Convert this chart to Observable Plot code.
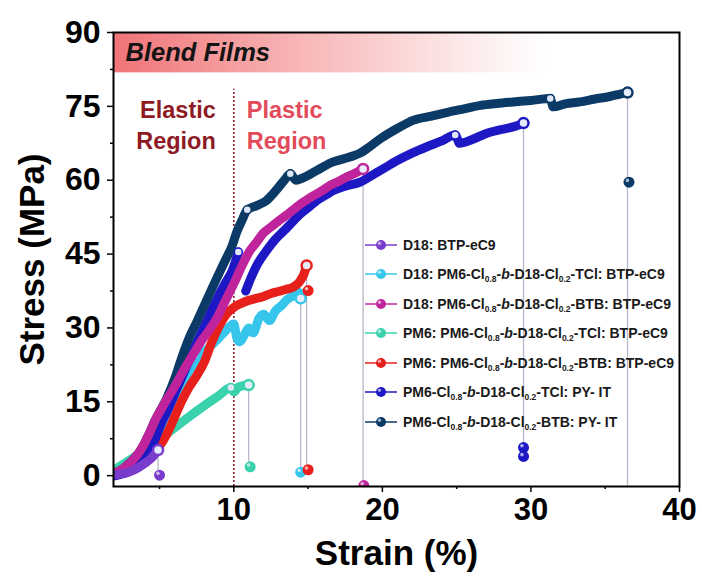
<!DOCTYPE html>
<html>
<head>
<meta charset="utf-8">
<script src="https://cdn.jsdelivr.net/npm/d3@7"></script>
<script src="https://cdn.jsdelivr.net/npm/@observablehq/plot@0.6"></script>
<style>
  html, body { margin: 0; padding: 0; background: #fff; }
  #chart { position: relative; width: 702px; height: 577px; font-family: "Liberation Sans", Arial, sans-serif; }
  #legend { position: absolute; left: 365px; top: 230px; }
  .row { display: flex; align-items: center; height: 29.5px; font-weight: bold; font-size: 14px; color: #1a1a1a; white-space: nowrap; }
  .row svg { flex: none; margin-right: 6px; }
  .row sub { font-size: 8.5px; vertical-align: -3px; line-height: 0; }
</style>
</head>
<body>
<div id="chart"><div id="legend"></div></div>
<script>
// Series (blend films) in legend order
const seriesNames = [
  "D18: BTP-eC9",
  "D18: PM6-Cl0.8-b-D18-Cl0.2-TCl: BTP-eC9",
  "D18: PM6-Cl0.8-b-D18-Cl0.2-BTB: BTP-eC9",
  "PM6: PM6-Cl0.8-b-D18-Cl0.2-TCl: BTP-eC9",
  "PM6: PM6-Cl0.8-b-D18-Cl0.2-BTB: BTP-eC9",
  "PM6-Cl0.8-b-D18-Cl0.2-TCl: PY- IT",
  "PM6-Cl0.8-b-D18-Cl0.2-BTB: PY- IT"
];
const seriesColors = ["#7a3ccc", "#36c6ec", "#c0249c", "#3ad2ac", "#e8201c", "#1e18c4", "#0c3a66"];
// Stacking of the curves, bottom to top
const drawOrder = [1, 3, 4, 5, 6, 2, 0];

// Stress–strain curves: [strain %, stress MPa]
const curveD18 = [[2.0,0.2],[2.5,0.4],[3.0,0.8],[3.5,1.5],[4.0,2.5],[4.5,3.7],[4.9,5.2]];
const curveD18TCl = [[2.0,0.5],[3.0,2],[4.0,4.5],[4.5,6.5],[5.0,8.8],[5.5,12],[6.0,15.5],[6.5,18.5],[7.0,21.3],[7.4,23],[7.6,22.8],
  [8.0,25],[8.5,26.5],[9.0,28],[9.5,29.6],[10.0,30.8],[10.2,28],[10.4,27.2],[10.7,28.5],[11.0,30],[11.3,29],[11.7,32],[12.0,32.8],
  [12.4,31.5],[12.8,33.5],[13.2,34.5],[13.6,35.8],[14.0,36.5],[14.4,37.2],[14.5,36]];
const curveD18BTB = [[2.0,0.5],[2.5,1.3],[3.0,2.6],[3.5,4.2],[3.85,5.8],[4.3,8.5],[4.7,11.2],[5.5,15.5],[6.1,18.5],[6.6,21.3],
  [7.2,24.3],[7.8,27.3],[8.4,29.8],[8.9,32.2],[9.4,35.3],[10.0,39],[10.5,42.3],[11.0,45.3],[11.5,47.3],[12.0,49.3],[12.5,50.5],
  [13.0,51.7],[13.5,52.8],[14.0,54],[14.5,55.2],[15.0,56.2],[15.5,57.1],[16.0,58],[16.5,59],[17.0,59.7],[17.5,60.5],[18.0,61.2],[18.7,62.3]];
const curvePM6TCl = [[2.1,1.5],[3.0,3.2],[4.0,5.3],[5.0,7.4],[5.5,8.5],[6.0,9.7],[7.0,12],[8.0,14.2],[9.0,16.3],[9.8,17.9],
  [10.0,17],[10.3,18],[10.7,18.3],[11.0,18.4]];
const curvePM6BTB = [[2.0,0],[3.0,1.2],[4.0,3],[4.5,4.3],[5.0,6],[5.5,8.5],[6.0,11.8],[6.5,15.2],[7.0,18],[7.5,20.3],[8.0,23],
  [8.5,27],[9.0,30.3],[9.5,32.8],[10.0,34.2],[10.5,35],[11.0,35.6],[11.5,36],[12.0,36.4],[12.5,37],[13.0,37.4],[13.5,37.8],
  [14.0,38.3],[14.4,39.3],[14.7,40.8],[14.9,42.7]];
// NaN marks the gap where the record restarts
const curvePYTCl = [[2.0,0],[3.0,1],[4.0,3.5],[4.5,6],[5.2,11.2],[5.5,13],[6.0,16.5],[6.5,20],[7.0,23.5],[7.5,27],[8.2,31.5],
  [8.5,33.5],[9.0,36.7],[9.5,39.5],[9.9,41.7],[10.3,45.4],[10.6,NaN],[10.8,37.5],[11.2,40.5],[11.6,43],[12.2,45.7],[12.8,48],
  [13.4,49.8],[14.0,51.7],[14.5,53.2],[15.0,54.4],[15.6,55.9],[16.2,57],[16.7,57.9],[17.5,58.8],[18.5,59.6],[19.3,61],[20.1,62.4],
  [21.0,64],[22.0,65.5],[23.0,66.8],[24.0,68],[24.9,69.2],[25.2,67.5],[26.0,68.2],[27.0,69.5],[28.0,70.3],[29.0,71],[29.5,71.6]];
const curvePYBTB = [[2.0,0.5],[2.5,1.3],[3.0,2.6],[3.5,4.2],[3.85,5.8],[4.3,8.5],[4.7,11.2],[5.5,15.8],[6.0,19.5],[6.5,24],
  [7.0,28],[7.55,31.5],[8.0,34.5],[8.5,37.8],[9.1,41.7],[9.5,44.2],[9.85,46.4],[10.2,49.5],[10.57,52],[10.9,54],[11.5,54.8],
  [12.2,55.9],[12.8,57.8],[13.4,60],[13.8,61.3],[14.2,60],[14.6,60.4],[15.6,62],[16.5,63.5],[17.8,64.7],[18.5,65.5],[19.0,66.5],
  [19.9,68.5],[21.0,70.5],[22.1,72.2],[23.3,73],[24.4,73.8],[25.5,74.5],[26.6,75.2],[27.7,75.6],[28.8,75.9],[30.0,76.2],[31.3,76.6],
  [31.5,74.9],[32.3,75.5],[33.3,75.9],[34.3,76.5],[35.3,77],[36.0,77.5],[36.5,77.8]];
const curves = [curveD18, curveD18TCl, curveD18BTB, curvePM6TCl, curvePM6BTB, curvePYTCl, curvePYBTB];

// Points recorded after fracture: [series index, strain, stress]
const fracturePoints = [[0,5.0,0.1],[1,14.5,0.7],[2,18.75,-2],[3,11.1,1.8],[4,15.0,37.6],[4,15.0,1.2],
  [5,29.5,5.7],[5,29.5,3.9],[6,36.6,59.6]];
// Lowest stress reached by each fracture drop line
const dropFloor = [0.1, 0.7, -2, 1.8, 1.2, 3.9, -4];
// Marked joints along the curves: [series index, strain, stress]
const joints = [[3,9.8,17.9],[5,10.3,45.4],[5,24.9,69.2],[6,10.9,54],[6,13.8,61.3],[6,31.3,76.6]];

const xTicks = [10, 20, 30, 40], xMinor = [5, 15, 25, 35];
const yTicks = [0, 15, 30, 45, 60, 75, 90], yMinor = [7.5, 22.5, 37.5, 52.5, 67.5, 82.5];
const elasticLimit = [10];
const banner = [{from: 1.9, to: 31, bottom: 81.8, top: 90}];

const rows = drawOrder.flatMap(i => curves[i].map(([strain, stress]) => ({series: seriesNames[i], strain, stress})));
const ends = curves.map((c, i) => ({series: seriesNames[i], strain: c[c.length - 1][0], stress: c[c.length - 1][1], floor: dropFloor[i]}));
const breaks = fracturePoints.map(([i, strain, stress]) => ({series: seriesNames[i], strain, stress}));
const jointRows = joints.map(([i, strain, stress]) => ({series: seriesNames[i], strain, stress}));

const bold = {fontWeight: "bold"};
const svg = Plot.plot({
  width: 702, height: 577,
  marginLeft: 113, marginRight: 23, marginTop: 32, marginBottom: 91,
  style: {fontFamily: "'Liberation Sans', Arial, sans-serif", color: "#000", background: "#fff"},
  x: {domain: [1.9, 40]},
  y: {domain: [-2.2, 90]},
  color: {domain: seriesNames, range: seriesColors},
  marks: [
    Plot.rect(banner, {x1: "from", x2: "to", y1: "bottom", y2: "top", fill: "url(#bannerFade)"}),
    Plot.ruleX(elasticLimit, {y1: -2.2, y2: 78.5, stroke: "#8b1020", strokeWidth: 1.5, strokeDasharray: "2,2"}),
    Plot.ruleX(ends, {x: "strain", y1: "stress", y2: "floor", stroke: "#b8b8ca", strokeWidth: 1.3, clip: true}),
    Plot.line(rows, {x: "strain", y: "stress", z: "series", stroke: "series", strokeWidth: 9, curve: "monotone-x",
      strokeLinecap: "round", strokeLinejoin: "round", clip: true}),
    Plot.dot(jointRows, {x: "strain", y: "stress", r: 4, stroke: "series", strokeWidth: 1.5, fill: "#dfe6f6"}),
    Plot.dot(ends, {x: "strain", y: "stress", r: 5, stroke: "series", strokeWidth: 2.5, fill: "#e4ebfa"}),
    Plot.dot(breaks, {x: "strain", y: "stress", r: 5.5, fill: "series", clip: true}),
    Plot.dot(breaks, {x: "strain", y: "stress", r: 1.8, fill: "white", fillOpacity: 0.65, dx: -1.6, dy: -1.8, clip: true}),
    Plot.text(["Blend Films"], {frameAnchor: "top-left", dx: 12, dy: 20, lineAnchor: "middle", textAnchor: "start",
      fontSize: 25.5, fontWeight: "bold", fontStyle: "italic", fill: "#141414"}),
    Plot.text(elasticLimit, {x: d => d, frameAnchor: "top", text: () => "Elastic\nRegion", textAnchor: "end", lineAnchor: "top",
      dx: -18, dy: 64, lineHeight: 1.3, fontSize: 23.5, fontWeight: "bold", fill: "#8e1a24"}),
    Plot.text(elasticLimit, {x: d => d, frameAnchor: "top", text: () => "Plastic\nRegion", textAnchor: "start", lineAnchor: "top",
      dx: 13, dy: 64, lineHeight: 1.3, fontSize: 23.5, fontWeight: "bold", fill: "#e34a5a"}),
    Plot.axisY({ticks: yTicks, tickSize: 6, tickPadding: 7, fontSize: 32, ...bold, strokeWidth: 1.5, label: null, tickFormat: d => d}),
    Plot.axisY({ticks: yMinor, tickSize: 3, strokeWidth: 1.5, label: null, tickFormat: () => ""}),
    Plot.axisX({ticks: xTicks, tickSize: 6, tickPadding: 5, fontSize: 31, ...bold, strokeWidth: 1.5, label: null, tickFormat: d => d}),
    Plot.axisX({ticks: xMinor, tickSize: 3, strokeWidth: 1.5, label: null, tickFormat: () => ""}),
    Plot.text(["Stress (MPa)"], {frameAnchor: "left", dx: -81, rotate: -90, textAnchor: "middle", lineAnchor: "middle",
      fontSize: 35, ...bold, fill: "#000"}),
    Plot.text(["Strain (%)"], {frameAnchor: "bottom", dy: 67, textAnchor: "middle", lineAnchor: "middle",
      fontSize: 35, ...bold, fill: "#000"}),
    Plot.frame({stroke: "#000", strokeWidth: 2})
  ]
});

// Banner fade from red to white
const defs = d3.select(svg).insert("defs", ":first-child");
const grad = defs.append("linearGradient").attr("id", "bannerFade").attr("x1", "0").attr("x2", "1").attr("y1", "0").attr("y2", "0");
grad.append("stop").attr("offset", "0").attr("stop-color", "#f07478");
grad.append("stop").attr("offset", "0.45").attr("stop-color", "#f8b8b9");
grad.append("stop").attr("offset", "0.8").attr("stop-color", "#fde8e8");
grad.append("stop").attr("offset", "1").attr("stop-color", "#ffffff");

const chart = document.getElementById("chart");
chart.insertBefore(svg, chart.firstChild);

// Legend: line + ball symbol, label with subscripts
const legend = d3.select("#legend");
seriesNames.forEach((name, i) => {
  const row = legend.append("div").attr("class", "row");
  const s = row.append("svg").attr("width", 32).attr("height", 14);
  s.append("line").attr("x1", 0).attr("x2", 32).attr("y1", 7).attr("y2", 7).attr("stroke", seriesColors[i]).attr("stroke-width", 1.5);
  s.append("circle").attr("cx", 16).attr("cy", 7).attr("r", 5).attr("fill", seriesColors[i]);
  s.append("circle").attr("cx", 14.5).attr("cy", 5.3).attr("r", 1.7).attr("fill", "white").attr("fill-opacity", 0.6);
  const html = name.replace(/Cl(0\.\d)/g, "Cl<sub>$1</sub>").replace(/-b-/g, "-<i>b</i>-");
  row.append("span").html(html);
});
</script>
</body>
</html>
